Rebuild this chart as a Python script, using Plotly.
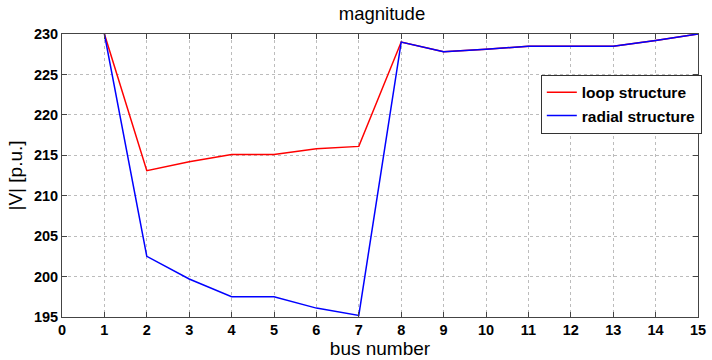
import plotly.graph_objects as go

# Bus voltage magnitudes per bus number
bus = list(range(1, 16))
loop_v = [230.0, 213.1, 214.2, 215.1, 215.1, 215.8, 216.1, 229.0,
          227.8, 228.1, 228.5, 228.5, 228.5, 229.2, 230.0]
radial_v = [230.0, 202.5, 199.7, 197.5, 197.5, 196.1, 195.2, 229.0,
            227.8, 228.1, 228.5, 228.5, 228.5, 229.2, 230.0]

x_ticks = list(range(0, 16))
y_ticks = [195, 200, 205, 210, 215, 220, 225, 230]

FONT = "Liberation Sans, Arial, sans-serif"

fig = go.Figure()
fig.add_trace(go.Scatter(x=bus, y=loop_v, mode="lines", name="loop structure",
                         line=dict(color="#ff0000", width=1.5)))
fig.add_trace(go.Scatter(x=bus, y=radial_v, mode="lines", name="radial structure",
                         line=dict(color="#0000ff", width=1.5)))

axis_common = dict(
    showline=True, linecolor="#444444", linewidth=1, mirror="ticks",
    ticks="inside", ticklen=5, tickcolor="#444444",
    showgrid=True, gridcolor="#bcbcbc", griddash="dot", gridwidth=1,
    zeroline=False, automargin=False,
    tickfont=dict(family=FONT, size=14.5, color="black", weight="bold"),
)

fig.update_layout(
    width=712, height=360,
    margin=dict(l=62, r=10, t=34, b=43),
    paper_bgcolor="white", plot_bgcolor="white",
    title=dict(text="magnitude", x=0.5365, xanchor="center", y=0.962, yanchor="middle",
               font=dict(family=FONT, size=18.5, color="black")),
    xaxis=dict(range=[0, 15], tickvals=x_ticks,
               title=dict(text="bus number", standoff=3,
                          font=dict(family=FONT, size=19, color="black")),
               **axis_common),
    yaxis=dict(range=[195, 230], tickvals=y_ticks,
               title=dict(text="|V| [p.u.]", standoff=6,
                          font=dict(family=FONT, size=19, color="black")),
               **axis_common),
    legend=dict(x=1.006, y=0.856, xanchor="right", yanchor="top",
                bgcolor="white", bordercolor="#333333", borderwidth=1,
                font=dict(family=FONT, size=15.5, color="black", weight="bold"),
                itemwidth=30, tracegroupgap=0),
    showlegend=True,
)

fig.write_html("out.html")
